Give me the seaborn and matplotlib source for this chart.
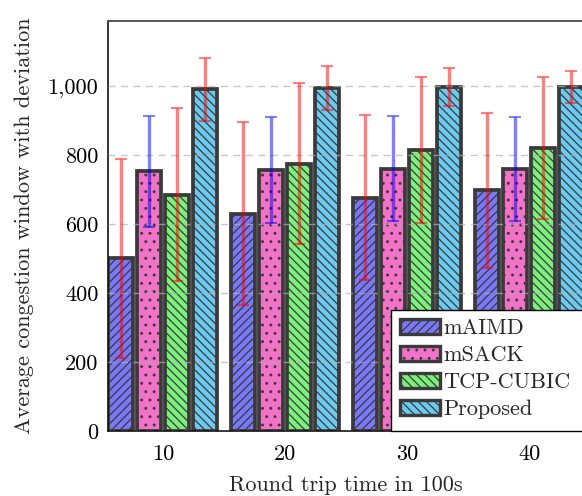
import numpy as np
import pandas as pd
import matplotlib
matplotlib.use('Agg')
import matplotlib.pyplot as plt
import seaborn as sns
from matplotlib.patches import Patch, Rectangle

# ---- data ----
rtt = ['10', '20', '30', '40']
methods = ['mAIMD', 'mSACK', 'TCP-CUBIC', 'Proposed']
maimd = [500, 630, 676, 697]
maimd_dev = [288, 264, 239, 225]
msack = [752, 757, 760, 759]
msack_dev = [162, 153, 152, 151]
cubic = [685, 775, 815, 820]
cubic_dev = [250, 232, 212, 206]
proposed = [990, 994, 996, 997]
proposed_dev = [92, 64, 55, 46]
yticks = [0, 200, 400, 600, 800, 1000]
ytick_labels = ['0', '200', '400', '600', '800', '1,000']

values = [maimd, msack, cubic, proposed]
devs = [maimd_dev, msack_dev, cubic_dev, proposed_dev]

df = pd.DataFrame({
    'rtt': [r for _ in methods for r in rtt],
    'method': [m for m in methods for _ in rtt],
    'value': [v for vs in values for v in vs],
})

colors = ['#7878f8', '#f272c8', '#7cf07c', '#6ccaf0']
hatches = ['////', '..', '\\\\\\\\', '\\\\\\\\']
err_colors = ['#ff0000', '#0000ff', '#ff0000', '#ff0000']
edge = '#3a3a3a'

sns.set_style('white')
plt.rcParams['font.family'] = ['cmr10', 'DejaVu Serif']
plt.rcParams['mathtext.fontset'] = 'cm'
plt.rcParams['axes.formatter.use_mathtext'] = True
plt.rcParams['hatch.linewidth'] = 0.9

fig = plt.figure(figsize=(5.82, 4.96), dpi=100)
ax = fig.add_axes([108 / 582, 65 / 496, (584 - 108) / 582, (431 - 21) / 496])

sns.barplot(data=df, x='rtt', y='value', hue='method', order=rtt,
            hue_order=methods, palette=colors, saturation=1,
            width=0.92, gap=0.12, edgecolor=edge, linewidth=2.7,
            errorbar=None, legend=False, ax=ax, zorder=1)

bar_containers = list(ax.containers)
for i, cont in enumerate(bar_containers):
    xs = []
    for p in cont.patches:
        p.set_hatch(hatches[i])
        p.set_edgecolor(edge)
        xs.append(p.get_x() + p.get_width() / 2)
    ax.errorbar(xs, values[i], yerr=devs[i], fmt='none', ecolor=err_colors[i],
                alpha=0.5, elinewidth=2.4, capsize=4.5, capthick=1.5, zorder=5)

ax.set_xlim(-0.45, 3.45)
ax.set_ylim(0, 1188)
ax.set_yticks(yticks)
ax.set_yticklabels(ytick_labels)
ax.set_axisbelow(False)
ax.yaxis.grid(True, linestyle=(0, (5, 4)), color='#b0b0b0', linewidth=1.0,
              alpha=0.7, zorder=2)
ax.tick_params(axis='both', labelsize=16, direction='in', length=3, width=0.8,
               colors='#222222', labelcolor='black', pad=7)
ax.tick_params(axis='x', length=0, pad=10)

for s in ['left', 'bottom']:
    ax.spines[s].set_color('#111111')
    ax.spines[s].set_linewidth(1.2)
ax.spines['top'].set_color('#555555')
ax.spines['top'].set_linewidth(1.4)
ax.spines['right'].set_visible(False)

ax.set_xlabel('Round trip time in 100s', fontsize=16, labelpad=8)
ax.set_ylabel('Average congestion window with deviation', fontsize=16, labelpad=10)

# legend box (extends past the right edge, as in the reference)
box = Rectangle((391 / 582, 65 / 496), (620 - 391) / 582, (431 - 310) / 496,
                transform=fig.transFigure, facecolor='white', edgecolor='black',
                linewidth=1.0, zorder=8)
fig.patches.append(box)

handles = [Patch(facecolor=colors[i], edgecolor=edge, hatch=hatches[i],
                 linewidth=2.4, label=methods[i]) for i in range(4)]
leg = fig.legend(handles=handles, loc='upper left',
                 bbox_to_anchor=(391 / 582, (496 - 310) / 496), bbox_transform=fig.transFigure,
                 fontsize=16, frameon=False, handlelength=1.8, handleheight=0.7,
                 handletextpad=0.15, labelspacing=0.33, borderpad=0.4,
                 borderaxespad=0)
leg.set_zorder(10)

fig.savefig('out.png', dpi=100)
